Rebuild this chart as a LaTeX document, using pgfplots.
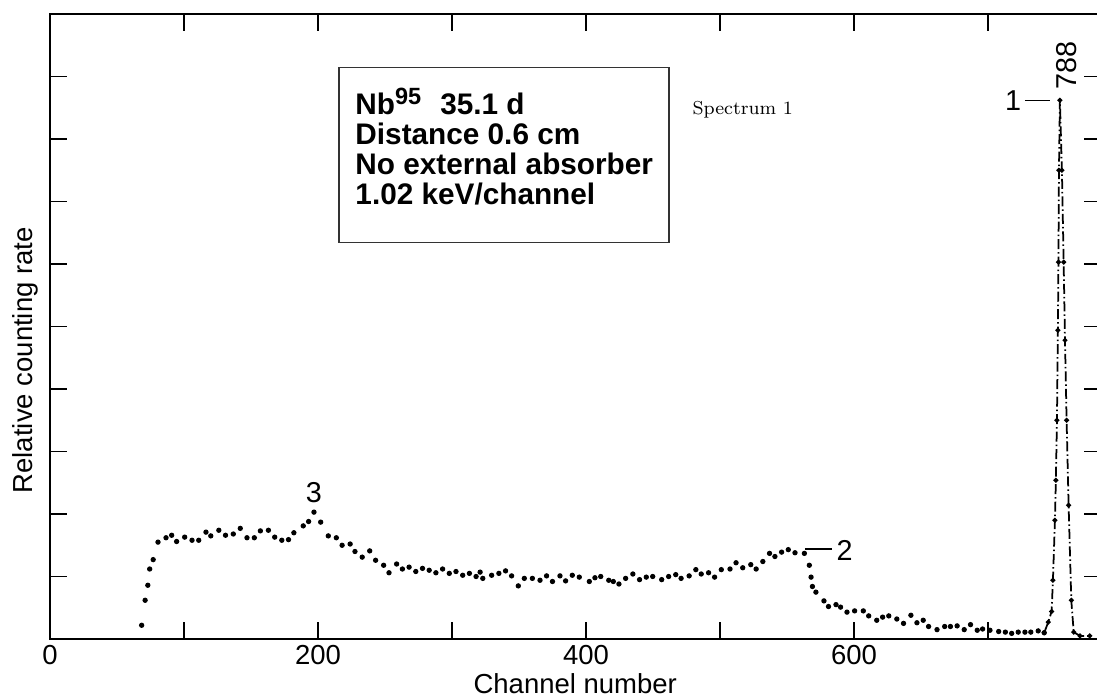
\documentclass[border=0pt]{standalone}
\usepackage{fontspec}
\usepackage{pgfplots}
\pgfplotsset{compat=1.18}
\newfontfamily\arial{Liberation Sans}

% spectrum dots (channel, relative rate)
\pgfplotstableread{
ch y
68.4 0.22
71 0.62
73 0.86
74.4 1.12
77 1.27
80.6 1.55
86.6 1.62
90.8 1.66
94.5 1.56
100.5 1.63
106 1.58
111 1.58
116.4 1.71
120 1.65
126 1.74
131 1.66
136.8 1.68
142 1.77
147 1.62
152.5 1.62
157 1.73
163 1.74
167.7 1.63
173 1.58
178 1.59
182 1.70
189 1.81
193 1.88
197 2.03
202 1.87
207.7 1.65
213.7 1.62
218 1.50
224 1.52
227.6 1.40
233 1.31
238.6 1.41
243 1.26
249 1.18
253 1.06
258.7 1.20
263 1.12
268 1.15
273 1.08
278 1.13
283 1.10
288 1.06
293 1.12
298 1.05
303 1.08
308 1.02
313 1.05
318 1.00
321 1.07
323 0.97
329.6 1.02
335 1.05
340 1.09
344.5 1.01
349.5 0.85
354 0.97
360 0.97
365.7 0.94
370.6 1.01
375 0.92
380.6 1.01
384.8 0.93
389.8 1.02
395 0.99
402.5 0.92
406.7 0.98
411 1.00
417 0.94
420.4 0.92
424.6 0.88
429.6 0.97
435 1.04
440 0.95
445 0.99
449.8 1.00
456.5 0.95
461.7 1.00
467 1.03
471 0.97
477 1.01
482 1.11
486 1.04
491.5 1.06
496 0.99
501 1.11
507.5 1.12
512 1.22
517 1.14
523 1.19
527 1.12
532 1.24
537 1.37
541 1.32
546 1.39
551 1.43
556 1.38
563 1.37
566.7 1.18
568 0.99
569 0.84
571.6 0.75
577.6 0.61
581 0.52
586.6 0.55
590 0.51
594.8 0.43
600.5 0.45
607 0.45
611 0.37
617 0.30
621.4 0.35
626 0.37
632 0.32
637 0.25
642.5 0.38
647 0.26
651.7 0.30
655.7 0.20
662 0.15
667.7 0.20
672 0.20
677 0.21
682.3 0.15
687 0.23
692 0.14
696 0.16
701.5 0.14
708 0.12
713 0.11
717.7 0.09
722.6 0.11
727.6 0.11
732 0.11
737.5 0.13
742 0.10
}\spectrum

% photopeak, drawn dash-dotted
\pgfplotstableread{
ch y
742 0.10
745 0.27
747.5 0.44
748.5 0.94
750 1.90
750.7 2.54
751.5 3.50
752.2 4.94
752.6 6.03
753 7.50
753.7 8.62
755.2 7.50
756.5 6.03
757.5 4.78
758.7 3.50
760.2 2.14
762.2 0.62
764 0.11
768.7 0.05
776 0.05
}\peak

\begin{document}
\begin{tikzpicture}
\begin{axis}[
    name=ax,
    scale only axis,
    width=420.2pt, height=250pt,
    xmin=0, xmax=784, ymin=0, ymax=10,
    xtick={0,100,...,700},
    xticklabels={0,,200,,400,,600,},
    ytick={1,2,...,9},
    yticklabels={},
    tick align=inside,
    major tick length=6.8pt,
    every tick/.style={black, line width=0.7pt},
    axis line style={line width=1.1pt},
    tick label style={font=\arial\fontsize{11}{12}\selectfont},
    xticklabel style={yshift=1pt},
    xlabel={Channel number},
    ylabel={Relative counting rate},
    label style={font=\arial\fontsize{11}{12}\selectfont},
    xlabel style={at={(rel axis cs:0.5,0)}, anchor=base, yshift=-21.6pt},
    ylabel style={at={(rel axis cs:-0.0238,0.446)}, anchor=center},
    clip=false,
  ]
  \addplot[only marks, mark=*, mark size=0.85pt, black] table[x=ch, y=y] {\spectrum};
  \addplot[black, line width=0.7pt, dash pattern=on 4pt off 1.2pt on 0.6pt off 1.2pt,
           mark=*, mark size=0.6pt, mark options={solid}] table[x=ch, y=y] {\peak};

  % info box
  \draw[line width=0.5pt, black!80] (axis cs:215.7,9.14) rectangle (axis cs:461.9,6.34);
  \begin{scope}[every node/.style={anchor=base west, inner sep=0pt,
      font=\arial\bfseries\fontsize{11.9}{12}\selectfont}]
    \node at (axis cs:227.6,8.40) {Nb\raisebox{4pt}{\fontsize{9.4}{9}\selectfont 95}\hspace{7.6pt}35.1 d};
    \node at (axis cs:227.6,7.92) {Distance 0.6 cm};
    \node at (axis cs:227.6,7.44) {No external absorber};
    \node at (axis cs:227.6,6.96) {1.02 keV/channel};
  \end{scope}
  \node[font=\fontsize{7.5}{9}\selectfont] at (axis cs:517,8.47) {Spectrum 1};

  % peak labels
  \begin{scope}[every node/.style={font=\arial\fontsize{11.5}{13}\selectfont, inner sep=0pt}]
    \node at (axis cs:197,2.35) {3};
    \node at (axis cs:593,1.41) {2};
    \node at (axis cs:718.7,8.62) {1};
    \node[rotate=90] at (axis cs:759,9.18) {788};
  \end{scope}
  \draw[line width=0.6pt] (axis cs:563.4,1.44) -- (axis cs:583.6,1.44);
  \draw[line width=0.6pt] (axis cs:727.6,8.62) -- (axis cs:746.3,8.62);

  \coordinate (bl) at (rel axis cs:0,0);
\end{axis}
\pgfresetboundingbox
\path ([xshift=-20pt,yshift=-23.6pt]bl) rectangle ++(438.8pt,279.2pt);
\end{tikzpicture}
\end{document}
